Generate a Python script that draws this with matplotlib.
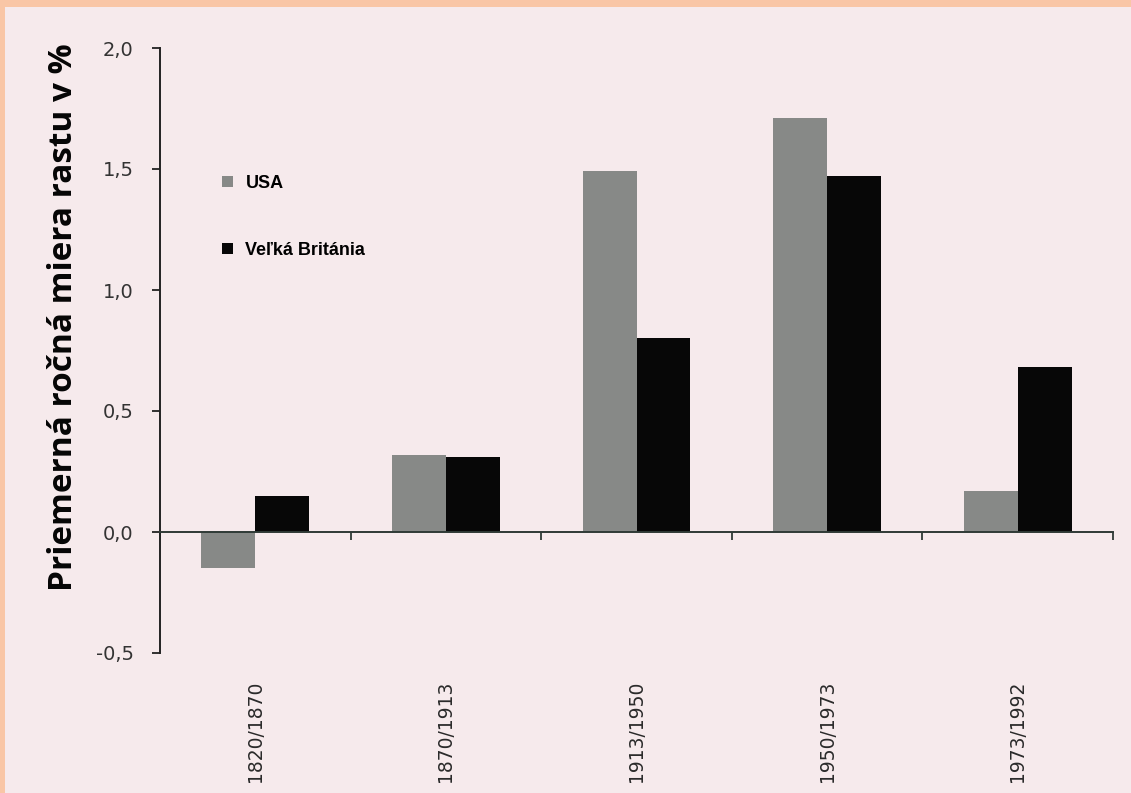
import matplotlib
matplotlib.use("Agg")
import matplotlib.pyplot as plt
import numpy as np
from matplotlib.patches import Rectangle

# Average annual growth rates (%) by period
periods = ["1820/1870", "1870/1913", "1913/1950", "1950/1973", "1973/1992"]
usa = [-0.15, 0.32, 1.49, 1.71, 0.17]
uk = [0.15, 0.31, 0.80, 1.47, 0.68]
series_names = ["USA", "Veľká Británia"]
y_ticks = [-0.5, 0.0, 0.5, 1.0, 1.5, 2.0]
y_tick_labels = ["-0,5", "0,0", "0,5", "1,0", "1,5", "2,0"]

bg = "#f6eaec"
usa_color = "#878987"
uk_color = "#070707"

fig = plt.figure(figsize=(11.31, 7.93), dpi=100, facecolor=bg)

# peach slide border along top and left edges
fig.patches.append(Rectangle((0, 1 - 7 / 793), 1, 7 / 793, transform=fig.transFigure,
                             facecolor="#f9c6a6", edgecolor="none", zorder=0))
fig.patches.append(Rectangle((0, 0), 5 / 1131, 1, transform=fig.transFigure,
                             facecolor="#f9c6a6", edgecolor="none", zorder=0))

ax = fig.add_axes([160 / 1131, 1 - 653 / 793, 953 / 1131, 605 / 793])
ax.set_facecolor("none")

x = np.arange(len(periods))
w = 0.283
ax.bar(x - w / 2, usa, width=w, color=usa_color, label=series_names[0], zorder=2)
ax.bar(x + w / 2, uk, width=w, color=uk_color, label=series_names[1], zorder=2)

ax.set_xlim(-0.5, len(periods) - 0.5)
ax.set_ylim(-0.5, 2.0)

# spines: left axis full height, horizontal axis at zero
for s in ["top", "right"]:
    ax.spines[s].set_visible(False)
ax.spines["left"].set_color("#222222")
ax.spines["left"].set_linewidth(1.4)
ax.spines["bottom"].set_position(("data", 0))
ax.spines["bottom"].set_color("#2f3a36")
ax.spines["bottom"].set_linewidth(1.4)

ax.set_yticks(y_ticks)
ax.set_yticklabels(y_tick_labels, fontsize=14, color="#333333", family="DejaVu Sans")
ax.tick_params(axis="y", direction="out", length=6, width=1.3, pad=13, colors="#222222",
               labelcolor="#333333")

# category boundary ticks on the zero line
ax.set_xticks(np.arange(-0.5, len(periods), 1.0))
ax.set_xticklabels([])
ax.tick_params(axis="x", direction="out", length=6, width=1.3, colors="#2f3a36")

# period labels below the plot
sec = ax.secondary_xaxis(0)
sec.set_xticks(x)
sec.set_xticklabels(periods, rotation=90, fontsize=13.5, color="#2a2a2a",
                    family="DejaVu Sans", va="top")
sec.tick_params(axis="x", length=0, pad=20)
sec.spines["bottom"].set_visible(False)

ax.set_ylabel("Priemerná ročná miera rastu v %", fontsize=24, fontweight="bold",
              family="Open Sans", color="#050505")
ax.yaxis.set_label_coords(-0.084, 0.555)

leg = ax.legend(loc="upper left", bbox_to_anchor=(222 / 1131, 1 - 175 / 793),
                bbox_transform=fig.transFigure, frameon=False,
                prop={"family": "Liberation Sans", "weight": "bold", "size": 13},
                handlelength=0.6, handleheight=0.6, handletextpad=0.7,
                labelspacing=2.75, borderpad=0, borderaxespad=0)

fig.savefig("out.png", dpi=100, facecolor=bg)
